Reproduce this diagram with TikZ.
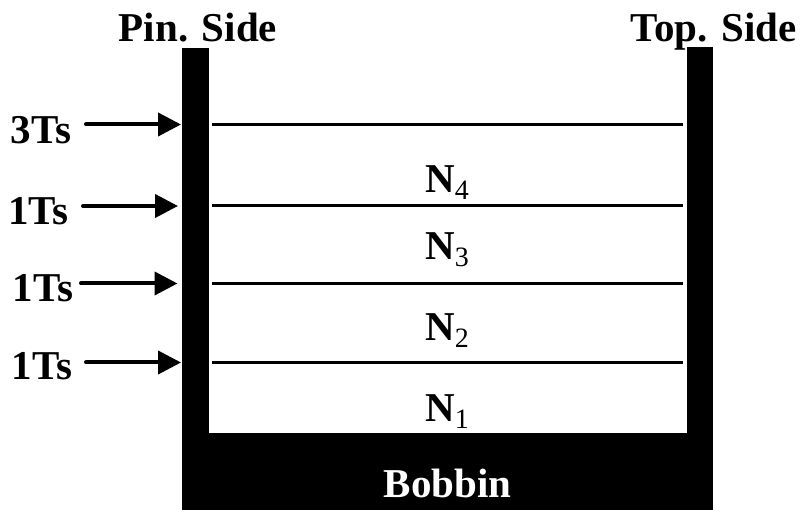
\documentclass[tikz,border=0pt]{standalone}
\usepackage{fontspec}
\usetikzlibrary{arrows.meta}
\setmainfont{Liberation Serif}
\newcommand{\subdigit}[1]{\raisebox{-7pt}{\fontsize{28}{28}\selectfont\normalfont #1}}
\begin{document}
\begin{tikzpicture}[x=1pt,y=-1pt,
  lab/.style={font=\fontsize{41}{41}\selectfont\bfseries,inner sep=0pt,text=black,anchor=base},
  nlab/.style={lab,anchor=base west},
  wall/.style={fill=black,draw=none},
  layer/.style={line width=3pt,black},
  arr/.style={line width=4pt,black,line cap=round,-{Triangle[length=23pt,width=23pt]}}]
\useasboundingbox (0,0) rectangle (801,510);
\fill[wall] (182,48) rectangle (209,434);
\fill[wall] (686.5,47) rectangle (713,434);
\fill[wall] (182,433) rectangle (713,510);
\coordinate (l1a) at (212,124.5); \coordinate (l1b) at (683,124.5);
\coordinate (l2a) at (212,206); \coordinate (l2b) at (683,206);
\coordinate (l3a) at (212,283.5); \coordinate (l3b) at (683,283.5);
\coordinate (l4a) at (212,362.5); \coordinate (l4b) at (683,362.5);
\draw[layer] (l1a)--(l1b); \draw[layer] (l2a)--(l2b); \draw[layer] (l3a)--(l3b); \draw[layer] (l4a)--(l4b);
\node[lab] (pin) at (198,41.5) {Pin. Side};
\node[lab] (top) at (713.5,41.5) {Top. Side};
\node[lab] (t3) at (41,144) {3Ts};
\node[lab] (t1a) at (38.5,225) {1Ts};
\node[lab] (t1b) at (43,302) {1Ts};
\node[lab] (t1c) at (42,380) {1Ts};
\coordinate (a1) at (181,124.5); \coordinate (a2) at (178,206); \coordinate (a3) at (177.5,283.5); \coordinate (a4) at (181,362.5);
\coordinate (s1) at (86,124.5); \coordinate (s2) at (83,206); \coordinate (s3) at (81,283.5); \coordinate (s4) at (86,362.5);
\draw[arr] (s1)--(a1);
\draw[arr] (s2)--(a2);
\draw[arr] (s3)--(a3);
\draw[arr] (s4)--(a4);
\node[nlab] (n4) at (425,193) {N\subdigit{4}};
\node[nlab] (n3) at (425,260) {N\subdigit{3}};
\node[nlab] (n2) at (425,341) {N\subdigit{2}};
\node[nlab] (n1) at (425,422) {N\subdigit{1}};
\node[lab,text=white] (bob) at (447.5,498) {Bobbin};
\end{tikzpicture}
\end{document}
